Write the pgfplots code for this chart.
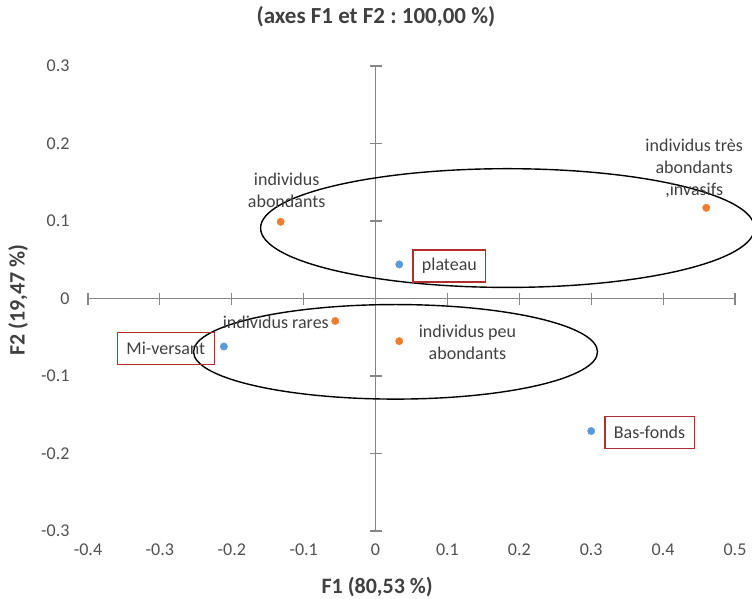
\documentclass[border=0pt]{standalone}
\usepackage{fontspec}
\setmainfont{Carlito}
\usepackage{pgfplots}
\pgfplotsset{compat=1.18}
\frenchspacing

\definecolor{serblue}{HTML}{5B9BD5}
\definecolor{serorange}{HTML}{ED7D31}
\definecolor{boxred}{HTML}{B02E2E}
\definecolor{axgray}{HTML}{868686}
\definecolor{txt}{HTML}{404040}
\definecolor{ticktxt}{HTML}{505050}

\pgfplotsset{
  caplot/.style={
    at={(0,0)}, anchor=south west,
    scale only axis, width=647bp, height=465bp,
    xmin=-0.4, xmax=0.5, ymin=-0.3, ymax=0.3,
    xtick={-0.4,-0.3,-0.2,-0.1,0,0.1,0.2,0.3,0.4,0.5},
    ytick={-0.3,-0.2,-0.1,0,0.1,0.2,0.3},
  },
}
\tikzset{
  lbl/.style={text=txt, font=\fontsize{18bp}{22bp}\selectfont},
  redbox/.style={lbl, draw=boxred, line width=1.3bp, inner xsep=9bp, minimum height=32bp},
}

\begin{document}
\begin{tikzpicture}[font=\fontsize{18bp}{22bp}\selectfont]

% outer axis: tick labels and titles only
\begin{axis}[caplot,
    axis x line=bottom, axis y line=left,
    axis line style={draw=none}, major tick length=0pt,
    /pgf/number format/assume math mode=true,
    tick label style={text=ticktxt, font=\fontsize{18bp}{22bp}\selectfont},
    xticklabel style={yshift=-9bp},
    yticklabel style={xshift=-15bp},
    title={(axes F1 et F2 : 100,00 \%)},
    title style={font=\fontsize{23bp}{27bp}\selectfont\bfseries, text=txt,
        at={(axis description cs:0.445,1.094)}, anchor=center},
    xlabel={F1 (80,53 \%)},
    xlabel style={font=\fontsize{22bp}{26bp}\selectfont\bfseries, text=txt,
        at={(axis description cs:0.447,-0.12)}, anchor=center},
    ylabel={F2 (19,47 \%)},
    ylabel style={font=\fontsize{22bp}{26bp}\selectfont\bfseries, text=txt,
        at={(axis description cs:-0.108,0.497)}, anchor=center},
]
\end{axis}

% inner axis: crossing axes, groups and points
\begin{axis}[caplot,
    axis lines=middle,
    axis line style={axgray, line width=1.2bp, -},
    tick style={axgray, line width=1.2bp},
    major tick length=12bp, tick align=center,
    xticklabels={}, yticklabels={},
    clip=false,
]
\draw[black, line width=1.4bp] (axis cs:0.1836,0.0909) ellipse [x radius=0.3435, y radius=0.0766];
\draw[black, line width=1.4bp] (axis cs:0.0278,-0.0688) ellipse [x radius=0.281, y radius=0.061];

% modalities (orange)
\addplot[only marks, mark=*, mark size=3.7bp, color=serorange] coordinates {(-0.132,0.099)}
    node[lbl, anchor=south, align=center, xshift=6bp, yshift=11bp] {individus\\abondants};
\addplot[only marks, mark=*, mark size=3.7bp, color=serorange] coordinates {(0.460,0.117)}
    node[lbl, anchor=south, align=center, xshift=-12bp, yshift=7bp] {individus très\\abondants\\,invasifs};
\addplot[only marks, mark=*, mark size=3.7bp, color=serorange] coordinates {(-0.056,-0.029)}
    node[lbl, anchor=east, xshift=-3bp, yshift=-1bp] {individus rares};
\addplot[only marks, mark=*, mark size=3.7bp, color=serorange] coordinates {(0.033,-0.055)}
    node[lbl, anchor=west, align=center, xshift=16bp, yshift=-1bp] {individus peu\\abondants};

% sites (blue)
\addplot[only marks, mark=*, mark size=3.7bp, color=serblue] coordinates {(0.033,0.044)}
    node[redbox, anchor=west, xshift=13bp, yshift=-1.5bp] {plateau};
\addplot[only marks, mark=*, mark size=3.7bp, color=serblue] coordinates {(-0.211,-0.062)}
    node[redbox, anchor=east, xshift=-9bp, yshift=-2bp] {Mi-versant};
\addplot[only marks, mark=*, mark size=3.7bp, color=serblue] coordinates {(0.300,-0.171)}
    node[redbox, anchor=west, xshift=13bp, yshift=-1.5bp] {Bas-fonds};
\end{axis}

\pgfresetboundingbox
\path[use as bounding box] (-88bp,-68bp) rectangle (664bp,531bp);
\end{tikzpicture}
\end{document}
